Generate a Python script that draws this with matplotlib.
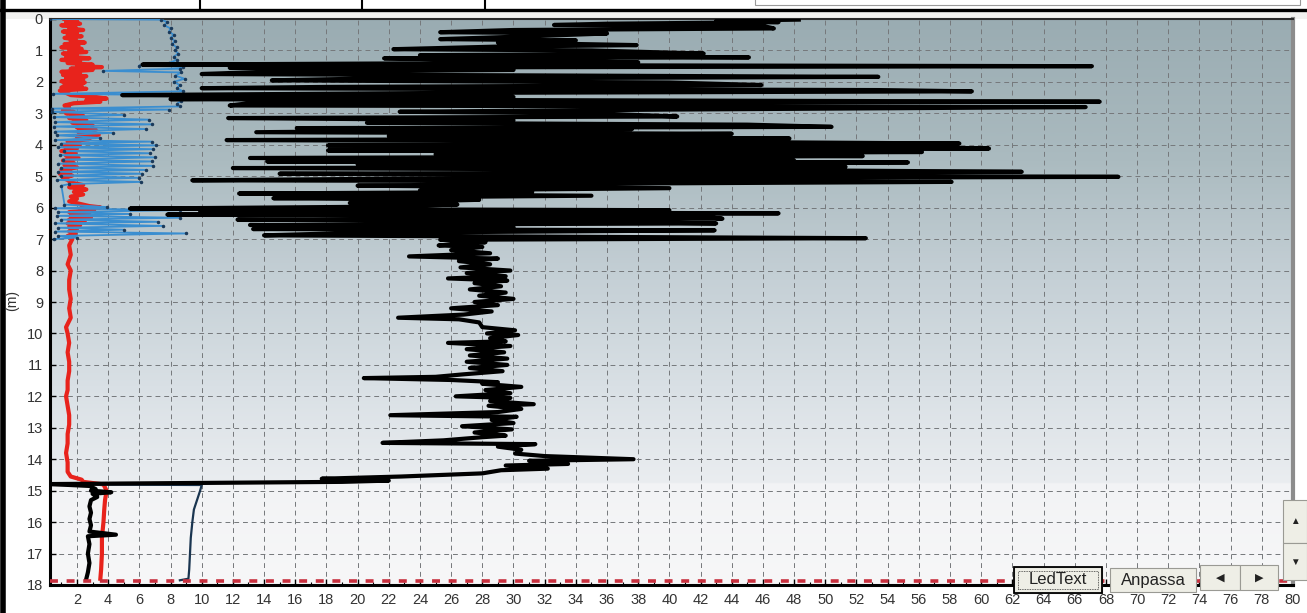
import numpy as np
import matplotlib
matplotlib.use("Agg")
import matplotlib.pyplot as plt
from matplotlib.patches import Rectangle
from matplotlib.lines import Line2D
from matplotlib.colors import LinearSegmentedColormap

W, H = 1307, 613

# ---- data (depth in m, value on x axis) ----
BLACK_DEPTH = [
    0.02, 0.06, 0.10, 0.15, 0.19, 0.22, 0.30, 0.35, 0.42, 0.46, 0.55, 0.64, 0.68, 0.75, 0.83, 0.88,
    0.96, 1.00, 1.10, 1.15, 1.22, 1.25, 1.32, 1.38, 1.45, 1.50, 1.55, 1.62, 1.68, 1.75, 1.84, 1.90,
    1.95, 2.02, 2.10, 2.16, 2.20, 2.26, 2.30, 2.35, 2.42, 2.48, 2.55, 2.63, 2.68, 2.75, 2.80, 2.88,
    2.95, 3.00, 3.10, 3.15, 3.22, 3.30, 3.36, 3.43, 3.47, 3.50, 3.60, 3.65, 3.72, 3.80, 3.85, 3.90,
    3.96, 4.02, 4.08, 4.12, 4.18, 4.23, 4.30, 4.36, 4.42, 4.50, 4.53, 4.56, 4.62, 4.70, 4.74, 4.80,
    4.86, 4.92, 4.97, 5.02, 5.08, 5.13, 5.18, 5.25, 5.30, 5.38, 5.45, 5.50, 5.55, 5.62, 5.70, 5.75,
    5.85, 5.90, 5.97, 6.03, 6.08, 6.13, 6.18, 6.22, 6.28, 6.35, 6.38, 6.45, 6.50, 6.55, 6.62, 6.68,
    6.72, 6.80, 6.88, 6.97, 7.02, 7.10, 7.15,
    7.20, 7.25, 7.35, 7.45, 7.55, 7.62, 7.70, 7.80, 7.90, 8.00, 8.08, 8.18, 8.25, 8.32, 8.40, 8.50,
    8.60, 8.70, 8.80, 8.90, 9.00, 9.10, 9.20, 9.30, 9.40, 9.50, 9.55, 9.65, 9.80, 9.90, 10.00, 10.05,
    10.15, 10.25, 10.30, 10.40, 10.50, 10.60, 10.70, 10.80, 10.90, 11.00, 11.10, 11.20, 11.30, 11.38,
    11.42, 11.48, 11.55, 11.60, 11.70, 11.80, 11.90, 12.00, 12.05, 12.15, 12.25, 12.30, 12.40, 12.50,
    12.60, 12.65, 12.75, 12.85, 12.95, 13.05, 13.15, 13.25, 13.30, 13.40, 13.48, 13.52, 13.60, 13.70,
    13.82, 13.90, 14.00, 14.05, 14.15, 14.20, 14.30, 14.35, 14.45, 14.55, 14.62, 14.68, 14.72, 14.79,
    14.85, 14.95, 15.00, 15.05, 15.10, 15.20, 15.30, 15.50, 15.70, 15.90, 16.10, 16.30, 16.40, 16.45,
    16.70, 17.00, 17.30, 17.60, 17.80,
]
BLACK_VALUE = [
    48.3, 43.0, 47.0, 36.0, 32.6, 46.0, 46.7, 30.0, 25.3, 36.0, 31.0, 25.3, 34.0, 29.0, 37.9, 28.8,
    22.3, 35.0, 42.2, 24.0, 45.1, 21.7, 30.0, 38.0, 6.2, 67.1, 11.8, 30.0, 14.0, 10.0, 53.4, 20.0,
    14.5, 40.0, 45.9, 18.0, 10.0, 53.4, 59.4, 26.0, 4.9, 30.0, 8.0, 67.6, 13.0, 11.8, 66.7, 40.0,
    22.7, 35.0, 40.5, 11.7, 30.0, 20.6, 45.0, 50.4, 16.1, 37.6, 13.5, 44.0, 22.0, 47.7, 11.6, 40.0,
    58.6, 18.1, 50.0, 60.5, 18.1, 56.2, 25.0, 52.4, 13.1, 48.0, 14.2, 55.3, 20.0, 51.3, 12.0, 45.0,
    62.6, 15.0, 40.0, 68.8, 22.0, 9.4, 58.1, 30.0, 20.0, 40.0, 24.0, 31.2, 12.4, 35.0, 14.6, 27.8,
    19.5, 26.4, 21.0, 5.4, 40.0, 9.9, 47.0, 7.8, 42.0, 43.4, 12.3, 35.0, 43.0, 13.1, 30.0, 13.3,
    42.9, 20.0, 14.0, 52.6, 25.3, 28.2, 26.5,
    25.2, 28.0, 26.0, 28.5, 23.3, 29.0, 26.5, 28.5, 26.6, 29.8, 27.0, 29.5, 25.8, 29.6, 27.5, 29.2,
    27.2, 29.5, 27.8, 30.0, 27.5, 29.0, 26.0, 28.6, 26.8, 22.6, 26.5, 27.8, 28.0, 30.1, 28.3, 30.3,
    28.5, 29.5, 25.8, 29.8, 27.0, 29.4, 27.2, 29.6, 27.0, 29.6, 27.2, 29.3, 26.8, 25.0,
    20.4, 26.0, 29.0, 28.0, 30.5, 28.2, 29.8, 26.3, 29.8, 28.5, 31.3, 28.4, 30.5, 29.0,
    22.1, 30.2, 28.6, 30.0, 26.7, 29.9, 27.5, 29.5, 28.0, 25.5, 21.6, 31.4, 29.0, 30.5,
    30.1, 32.0, 37.7, 31.0, 33.5, 29.5, 32.2, 29.2, 28.0, 22.8, 17.7, 22.0, 19.0, 0.3,
    2.8, 3.2, 2.9, 4.2, 3.0, 3.3, 2.9, 2.8, 2.9, 2.8, 2.9, 2.8, 4.5, 2.7,
    2.8, 2.7, 2.8, 2.7, 2.6,
]

RED_DEPTH = [
    0.00, 0.05, 0.10, 0.15, 0.20, 0.25, 0.30, 0.35, 0.40, 0.45, 0.50, 0.55, 0.60, 0.65, 0.70, 0.75,
    0.80, 0.85, 0.90, 0.95, 1.00, 1.05, 1.10, 1.15, 1.20, 1.25, 1.30, 1.35, 1.40, 1.45, 1.50, 1.53,
    1.58, 1.62, 1.68, 1.72, 1.78, 1.82, 1.88, 1.92, 1.98, 2.02, 2.08, 2.12, 2.18, 2.22, 2.28, 2.35,
    2.42, 2.48, 2.53, 2.58, 2.63, 2.68, 2.75, 2.82, 2.90, 2.95, 3.00, 3.08, 3.15, 3.22, 3.30, 3.38,
    3.45, 3.52, 3.60, 3.68, 3.75, 3.82, 3.90, 3.98, 4.05, 4.12, 4.20, 4.28, 4.35, 4.42, 4.50, 4.58,
    4.65, 4.72, 4.80, 4.86, 4.92, 4.98, 5.05, 5.12, 5.20, 5.28, 5.35, 5.42, 5.50, 5.58, 5.65, 5.72,
    5.80, 5.88, 5.95, 5.99, 6.03, 6.08, 6.14, 6.20, 6.26, 6.32, 6.38, 6.44, 6.50, 6.56, 6.62, 6.68,
    6.75, 6.82, 6.90, 7.00, 7.20, 7.50, 7.80, 8.00, 8.30, 8.60, 8.90, 9.20, 9.50, 9.80, 10.00, 10.30,
    10.60, 10.90, 11.20, 11.50, 11.80, 12.00, 12.30, 12.60, 12.90, 13.20, 13.50, 13.80, 14.10, 14.40,
    14.55, 14.65, 14.72, 14.80, 15.00, 15.30, 15.60, 16.00, 16.50, 17.00, 17.50, 17.80,
]
RED_VALUE = [
    1.2, 2.0, 1.3, 2.2, 1.0, 1.9, 1.5, 2.4, 1.1, 2.0, 1.4, 2.3, 1.2, 1.9, 1.6, 2.5,
    1.2, 2.1, 1.0, 2.3, 1.5, 2.6, 1.1, 2.0, 1.3, 2.8, 1.0, 2.2, 1.4, 3.0, 2.0, 3.6,
    1.6, 3.0, 1.0, 2.2, 1.1, 2.6, 1.3, 2.4, 1.0, 2.5, 1.2, 2.3, 1.0, 2.6, 0.9, 1.3,
    1.6, 3.2, 3.9, 2.6, 3.5, 1.8, 1.2, 1.5, 1.1, 1.8, 1.3, 2.4, 1.5, 2.6, 1.7, 3.0,
    2.0, 3.2, 2.1, 3.4, 2.0, 2.8, 1.4, 2.2, 1.2, 2.0, 1.0, 1.9, 1.3, 2.1, 1.1, 1.8,
    1.2, 2.0, 1.0, 1.6, 0.9, 1.7, 1.1, 1.4, 1.6, 2.4, 1.5, 2.6, 1.8, 2.4, 1.6, 2.0,
    1.5, 2.2, 2.8, 3.5, 2.2, 3.1, 1.5, 2.8, 1.6, 2.9, 1.5, 2.5, 1.4, 2.2, 1.5, 2.0,
    1.5, 1.9, 1.4, 1.7, 1.5, 1.6, 1.4, 1.6, 1.5, 1.5, 1.6, 1.5, 1.6, 1.3, 1.4, 1.5,
    1.4, 1.5, 1.5, 1.4, 1.4, 1.3, 1.4, 1.5, 1.5, 1.4, 1.4, 1.3, 1.4, 1.4,
    1.6, 2.3, 2.4, 3.7, 3.9, 3.8, 3.75, 3.7, 3.6, 3.6, 3.55, 3.5,
]

BLUE_DEPTH = [
    0.00, 0.02, 0.10, 0.20, 0.30, 0.40, 0.50, 0.60, 0.70, 0.80, 0.90, 1.00, 1.10, 1.20, 1.30, 1.40,
    1.48, 1.52, 1.58, 1.65, 1.70, 1.80, 1.90, 2.00, 2.10, 2.20, 2.30, 2.38, 2.42, 2.50, 2.60, 2.70,
    2.78, 2.85, 2.88, 2.95, 3.05, 3.12, 3.20, 3.28, 3.35, 3.42, 3.50, 3.58, 3.62, 3.70, 3.78, 3.85,
    3.90, 3.96, 4.02, 4.08, 4.14, 4.20, 4.27, 4.33, 4.40, 4.47, 4.53, 4.60, 4.67, 4.73, 4.80, 4.86,
    4.92, 4.98, 5.05, 5.12, 5.18, 5.25, 5.30, 5.90, 5.98, 6.02, 6.08, 6.14, 6.20, 6.26, 6.32, 6.38,
    6.45, 6.50, 6.58, 6.64, 6.70, 6.76, 6.82, 6.90, 6.95, 7.00,
]
BLUE_VALUE = [
    0.3, 7.4, 7.8, 7.6, 8.0, 7.9, 8.2, 8.0, 8.3, 8.1, 8.4, 8.3, 8.5, 8.2, 8.4, 7.9,
    6.0, 8.8, 8.6, 3.7, 8.7, 8.3, 8.9, 8.2, 8.6, 8.4, 8.8, 0.45, 8.6, 8.5, 8.7, 8.4,
    8.6, 0.4, 7.9, 0.4, 5.0, 0.5, 6.6, 0.6, 6.8, 0.5, 6.4, 0.6, 4.3, 0.7, 3.5, 0.6,
    6.8, 1.0, 7.1, 0.8, 6.9, 1.2, 6.7, 0.9, 7.0, 1.1, 6.8, 0.8, 6.9, 1.0, 6.4, 0.8,
    6.2, 1.0, 6.0, 0.7, 6.1, 1.5, 1.0, 1.2, 3.9, 0.6, 8.6, 0.8, 5.4, 0.7, 8.6, 1.0,
    7.2, 0.6, 7.5, 0.8, 5.0, 0.6, 9.0, 0.8, 2.0, 0.5,
]

TEAL_DEPTH = [14.80, 14.82, 15.00, 15.30, 15.60, 16.00, 16.50, 17.00, 17.50, 17.80, 17.85]
TEAL_VALUE = [0.3, 10.0, 9.9, 9.7, 9.5, 9.4, 9.3, 9.25, 9.2, 9.15, 8.6]

BASE_DEPTH = 17.86
X_TICKS = list(range(2, 81, 2))
Y_TICKS = list(range(0, 19))

FONT = "Liberation Sans"
GRID_COLOR = "#75787b"


def fx(px):
    return px / W


def fy(py):
    return 1 - py / H


def fig_rect(fig, x0, y0, x1, y1, **kw):
    fig.patches.append(Rectangle((fx(x0), fy(y1)), fx(x1) - fx(x0), fy(y0) - fy(y1),
                                 transform=fig.transFigure, **kw))


def fig_line(fig, xs, ys, **kw):
    fig.lines.append(Line2D([fx(x) for x in xs], [fy(y) for y in ys],
                            transform=fig.transFigure, **kw))


def button(fig, x0, y0, x1, y1, label, size=12, focused=False):
    fig_rect(fig, x0, y0, x1, y1, facecolor="#eeeee6", edgecolor="#9a9a94", lw=0.8, zorder=5)
    if focused:
        fig_rect(fig, x0, y0, x1, y1, facecolor="none", edgecolor="black", lw=1.3, zorder=6)
        fig_rect(fig, x0 + 4, y0 + 4, x1 - 4, y1 - 4, facecolor="none", edgecolor="#333333",
                 lw=0.6, ls=(0, (1, 1)), zorder=6)
    fig.text(fx((x0 + x1) / 2), fy((y0 + y1) / 2), label, ha="center", va="center",
             fontsize=size, family=[FONT, "DejaVu Sans"], color="#222222", zorder=7)


fig = plt.figure(figsize=(W / 100, H / 100), dpi=100)
fig.patch.set_facecolor("white")

ax = fig.add_axes([fx(50), fy(585), fx(1293) - fx(50), fy(19) - fy(585)])
XMIN, XMAX = 0.27, 80.0
ax.set_xlim(XMIN, XMAX)
ax.set_ylim(18.0, 0.0)

# background gradient (grey-blue at top fading to white at the bottom)
bg = LinearSegmentedColormap.from_list("bg", [
    (0.0, "#9aacb2"), (0.25, "#abbbc0"), (0.45, "#c4cfd5"), (0.65, "#d9e0e5"),
    (0.82, "#eaedf0"), (0.823, "#f2f3f5"), (1.0, "#f7f7f8")])
grad = np.linspace(0, 1, 400).reshape(-1, 1)
ax.imshow(grad, cmap=bg, aspect="auto", extent=(XMIN, XMAX, 18.0, 0.0), zorder=0,
          interpolation="bilinear")

# dashed grid
for xv in X_TICKS:
    ax.axvline(xv, color=GRID_COLOR, lw=0.7, ls=(0, (5, 4)), zorder=1)
for yv in Y_TICKS[1:]:
    ax.axhline(yv, color=GRID_COLOR, lw=0.7, ls=(0, (5, 4)), zorder=1)

# traces
ax.plot(RED_VALUE, RED_DEPTH, color="#e8231c", lw=3.0, zorder=3)
ax.plot(BLUE_VALUE, BLUE_DEPTH, color="#3a8ed0", lw=1.3, zorder=4,
        marker=".", ms=3, mfc="#1b3a5a", mec="#1b3a5a")
ax.plot(TEAL_VALUE, TEAL_DEPTH, color="#1a3550", lw=1.6, zorder=4)
ax.plot(BLACK_VALUE, BLACK_DEPTH, color="black", lw=3.0, zorder=5)
ax.plot([XMIN, XMAX], [BASE_DEPTH, BASE_DEPTH], color="#c8303e", lw=2.6,
        ls=(0, (2.2, 2.4)), zorder=5)

# axes cosmetics
ax.set_xticks(X_TICKS)
ax.set_yticks(Y_TICKS)
ax.set_xticks(np.arange(1, 80, 1.0), minor=True)
ax.tick_params(axis="both", which="major", direction="in", length=4, width=1,
               color="black", labelsize=10.5, labelcolor="#333333")
ax.tick_params(axis="x", which="minor", direction="in", length=2.5, width=0.8, color="black")
ax.tick_params(axis="x", pad=6)
ax.tick_params(axis="y", pad=5)
for lab in ax.get_xticklabels() + ax.get_yticklabels():
    lab.set_family(FONT)
ax.spines["left"].set_linewidth(2.2)
ax.spines["bottom"].set_linewidth(2.2)
ax.spines["top"].set_linewidth(1.5)
ax.spines["top"].set_color("#2a2a2a")
ax.spines["right"].set_linewidth(3)
ax.spines["right"].set_color("#8c8c8c")

fig.text(fx(12), fy(300), "(m)", rotation=90, ha="center", va="center",
         fontsize=10, family=FONT, color="#333333")

# window header strip
fig_rect(fig, 6, 11, W, 19, facecolor="#f2f2f0", edgecolor="none", zorder=-1)
fig_rect(fig, 0, 0, W, 10, facecolor="white", edgecolor="none", zorder=2)
fig_line(fig, [0, W], [9.5, 9.5], color="black", lw=2.4, zorder=3)
for xv in (200, 362, 485):
    fig_line(fig, [xv, xv], [0, 9.5], color="black", lw=1.5, zorder=3)
fig_rect(fig, 755, -2, 1300, 5, facecolor="white", edgecolor="#9a9a9a", lw=0.8, zorder=3)
fig_line(fig, [3, 3], [0, H], color="black", lw=4, zorder=3)

# widgets at bottom right
button(fig, 1014, 567, 1102, 593, "LedText", focused=True)
button(fig, 1110, 568, 1196, 592, "Anpassa")
button(fig, 1200, 565, 1240, 590, "\u25c0", size=8)
button(fig, 1240, 565, 1278, 590, "\u25b6", size=8)
button(fig, 1283, 500, 1307, 543, "\u25b2", size=7)
button(fig, 1283, 543, 1307, 580, "\u25bc", size=7)

fig.savefig("out.png", dpi=100, facecolor="white")
